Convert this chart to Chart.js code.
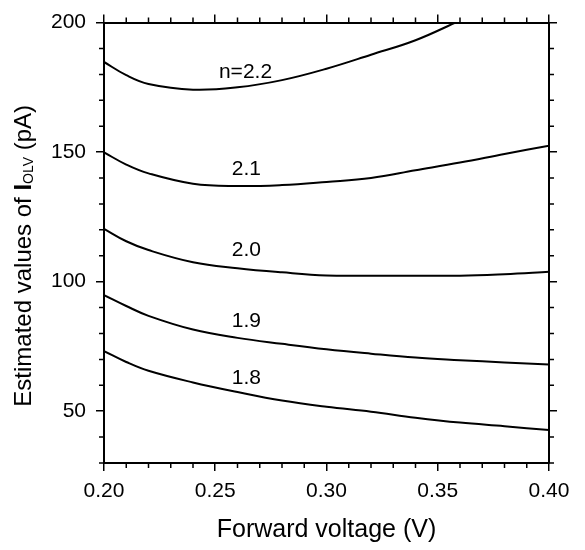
<!DOCTYPE html>
<html>
<head>
<meta charset="utf-8">
<script src="https://cdn.jsdelivr.net/npm/chart.js@4"></script>
<style>
  body { margin: 0; background: #fff; }
  canvas { display: block; }
</style>
</head>
<body>
<canvas id="chart" width="585" height="550"></canvas>
<script>
// data
const voltage = [0.20, 0.21, 0.22, 0.24, 0.26, 0.28, 0.30, 0.32, 0.34, 0.36, 0.38, 0.40];
const n22 = [184.8, 179.7, 176.3, 174.1, 175.0, 177.8, 182.2, 187.6, 193.2, 200.8, null, null];
const n21 = [149.9, 145.2, 141.8, 137.8, 136.9, 137.3, 138.5, 140.0, 143.0, 146.0, 149.3, 152.5];
const n20 = [120.4, 115.6, 112.2, 107.5, 105.2, 103.6, 102.4, 102.3, 102.3, 102.3, 102.9, 103.8];
const n19 = [94.8, 90.6, 86.8, 81.5, 78.3, 76.0, 73.9, 72.2, 70.7, 69.7, 68.8, 68.0];
const n18 = [73.2, 69.0, 65.6, 61.1, 57.4, 54.1, 51.7, 49.8, 47.5, 45.6, 44.2, 42.7];

const curveNames = ['n=2.2', '2.1', '2.0', '1.9', '1.8'];
const labelX = [0.2636, 0.264, 0.264, 0.264, 0.264];
const labelY = [181, 143.3, 112.1, 84.7, 62.6];

const FONT = '"Liberation Sans", Arial, sans-serif';

function pts(vals) {
  return voltage.map((v, i) => ({ x: v, y: vals[i] }));
}

function line(label, vals) {
  return {
    label: label,
    data: pts(vals),
    borderColor: '#000',
    borderWidth: 2,
    pointRadius: 0,
    fill: false,
    tension: 0.4,
    spanGaps: false
  };
}

// short minor ticks + curve labels + axis titles
const extras = {
  id: 'extras',
  afterDraw(chart) {
    const c = chart.ctx;
    const a = chart.chartArea;
    const xs = chart.scales.x, ys = chart.scales.y;
    c.save();
    c.strokeStyle = '#000';
    c.lineWidth = 1.5;
    c.beginPath();
    for (let i = 20; i <= 40; i++) {
      if (i % 5 === 0) continue;
      const px = xs.getPixelForValue(i / 100);
      c.moveTo(px, a.bottom); c.lineTo(px, a.bottom + 5);
      c.moveTo(px, a.top); c.lineTo(px, a.top - 5);
    }
    for (let v = 30; v <= 200; v += 10) {
      if (v % 50 === 0) continue;
      const py = ys.getPixelForValue(v);
      c.moveTo(a.left, py); c.lineTo(a.left - 5, py);
      c.moveTo(a.right, py); c.lineTo(a.right + 5, py);
    }
    c.stroke();

    c.fillStyle = '#000';
    c.font = '21px ' + FONT;
    c.textAlign = 'center';
    c.textBaseline = 'middle';
    curveNames.forEach((t, i) => {
      c.fillText(t, xs.getPixelForValue(labelX[i]), ys.getPixelForValue(labelY[i]));
    });

    // x title
    c.font = '25px ' + FONT;
    c.fillText('Forward voltage (V)', (a.left + a.right) / 2, a.bottom + 67);

    // y title with subscript
    const parts = [
      { t: 'Estimated values of ', f: '24px ' + FONT, dy: 0 },
      { t: 'I', f: 'bold 24px ' + FONT, dy: 0 },
      { t: 'OLV', f: '14px ' + FONT, dy: 5 },
      { t: ' (pA)', f: '24px ' + FONT, dy: 0 }
    ];
    let total = 0;
    parts.forEach(p => { c.font = p.f; p.w = c.measureText(p.t).width; total += p.w; });
    c.translate(24, (a.top + a.bottom) / 2 + 13);
    c.rotate(-Math.PI / 2);
    c.textAlign = 'left';
    let x0 = -total / 2;
    parts.forEach(p => {
      c.font = p.f;
      c.fillText(p.t, x0, p.dy);
      x0 += p.w;
    });
    c.restore();
  }
};

const axisGrid = {
  display: true,
  drawOnChartArea: false,
  drawTicks: true,
  tickLength: 8,
  color: '#000',
  lineWidth: 1.5
};
const axisBorder = { display: true, color: '#000', width: 2 };

new Chart(document.getElementById('chart'), {
  type: 'line',
  data: {
    datasets: [
      line('n=2.2', n22),
      line('2.1', n21),
      line('2.0', n20),
      line('1.9', n19),
      line('1.8', n18)
    ]
  },
  options: {
    responsive: false,
    animation: false,
    devicePixelRatio: 1,
    layout: { padding: 0 },
    plugins: {
      legend: { display: false },
      tooltip: { enabled: false }
    },
    scales: {
      x: {
        type: 'linear', position: 'bottom', min: 0.2, max: 0.4,
        grid: axisGrid, border: axisBorder,
        ticks: {
          stepSize: 0.05, color: '#000', padding: 8,
          font: { family: FONT, size: 21 },
          maxRotation: 0,
          callback: v => v.toFixed(2)
        },
        afterFit: s => { s.height = 87; }
      },
      x2: {
        type: 'linear', position: 'top', min: 0.2, max: 0.4,
        grid: axisGrid, border: axisBorder,
        ticks: { stepSize: 0.05, display: false },
        afterFit: s => { s.height = 16; }
      },
      y: {
        type: 'linear', position: 'left', min: 30, max: 200,
        grid: axisGrid, border: axisBorder,
        ticks: {
          stepSize: 50, color: '#000', padding: 10,
          font: { family: FONT, size: 21 },
          callback: v => (v % 50 === 0 ? v : '')
        },
        afterBuildTicks: s => { s.ticks = [50, 100, 150, 200].map(v => ({ value: v })); },
        afterFit: s => { s.width = 104; }
      },
      y2: {
        type: 'linear', position: 'right', min: 30, max: 200,
        grid: axisGrid, border: axisBorder,
        ticks: { display: false },
        afterBuildTicks: s => { s.ticks = [50, 100, 150, 200].map(v => ({ value: v })); },
        afterFit: s => { s.width = 36; }
      }
    }
  },
  plugins: [extras]
});
</script>
</body>
</html>
